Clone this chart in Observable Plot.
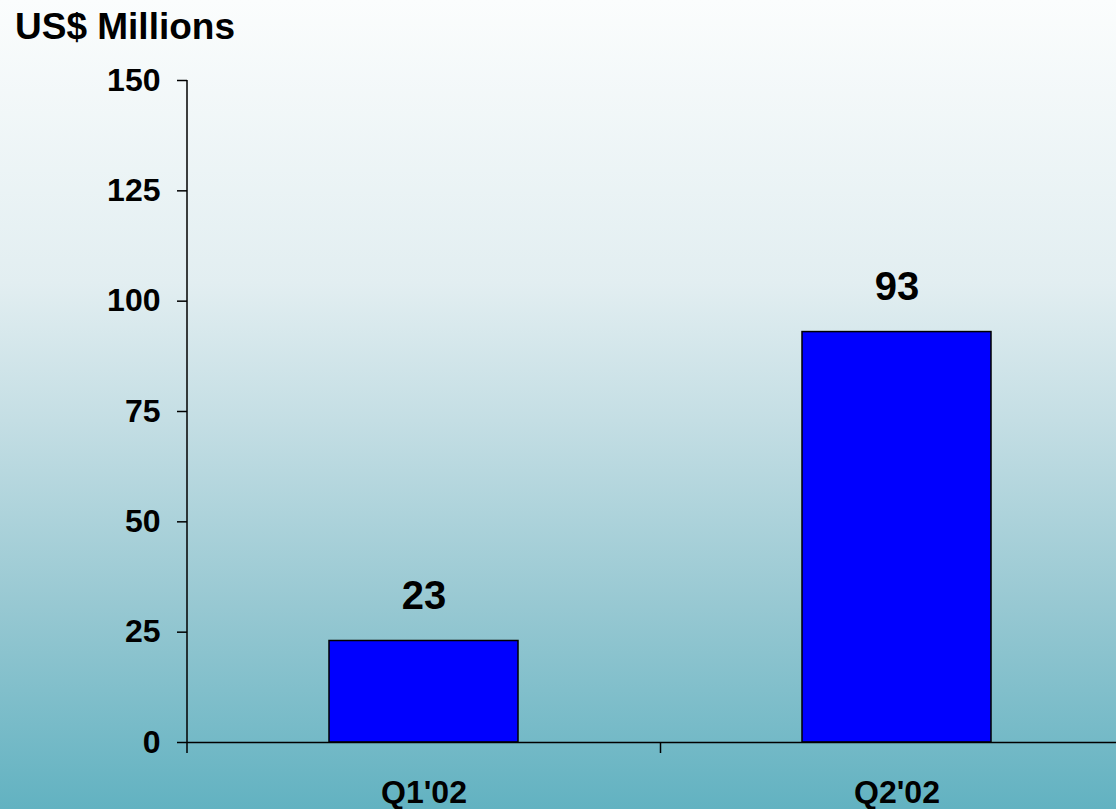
<!DOCTYPE html>
<html>
<head>
<meta charset="utf-8">
<script src="https://cdn.jsdelivr.net/npm/d3@7"></script>
<script src="https://cdn.jsdelivr.net/npm/@observablehq/plot@0.6"></script>
<style>
  html, body { margin: 0; padding: 0; }
  #wrap {
    width: 1116px; height: 809px; overflow: hidden;
    background: linear-gradient(to bottom, #fbfdfd 0%, #e2eef1 35%, #c4dee4 52%, #97c8d2 75%, #62b2c1 100%);
    font-family: Arial, "Liberation Sans", sans-serif;
  }
  #title {
    height: 43px; padding: 9px 0 0 15px; line-height: 35px;
    font-size: 37px; font-weight: bold; color: #000;
  }
</style>
</head>
<body>
<div id="wrap">
  <div id="title">US$ Millions</div>
  <div id="chart"></div>
</div>
<script>
const categories = ["Q1'02", "Q2'02"];
const values = [23, 93];
const yTicks = [0, 25, 50, 75, 100, 125, 150];

const data = categories.map((c, i) => ({quarter: c, value: values[i]}));

const xOptions = {domain: categories, range: [187, 1134], paddingInner: 0.6, paddingOuter: 0.3};
const xs = Plot.scale({x: {type: "band", ...xOptions}});

const axisLines = (index, scales, values, dimensions) => {
  const g = d3.create("svg:g").attr("stroke", "#000").attr("stroke-width", 1.5).attr("fill", "none");
  const x0 = dimensions.marginLeft;
  const y0 = scales.y(0);
  g.append("line").attr("x1", x0).attr("x2", x0).attr("y1", scales.y(d3.max(yTicks))).attr("y2", y0 + 11);
  const bw = xs.bandwidth;
  for (let i = 0; i < categories.length - 1; i++) {
    const b = (xs.apply(categories[i]) + bw + xs.apply(categories[i + 1])) / 2;
    g.append("line").attr("x1", b).attr("x2", b).attr("y1", y0).attr("y2", y0 + 11);
  }
  return g.node();
};

const chart = Plot.plot({
  width: 1116,
  height: 757,
  marginTop: 28,
  marginBottom: 67,
  marginLeft: 187,
  marginRight: 0,
  style: {background: "transparent", overflow: "visible", fontFamily: "Arial, 'Liberation Sans', sans-serif"},
  x: {...xOptions, axis: null},
  y: {domain: [0, 150], axis: null},
  marks: [
    Plot.barY(data, {x: "quarter", y: "value", fill: "#0000ff", stroke: "#000", strokeWidth: 1.5}),
    Plot.ruleY([0], {stroke: "#000", strokeWidth: 1.5}),
    axisLines,
    Plot.axisY({ticks: yTicks, tickSize: 10, tickPadding: 17, fontSize: 32, fontWeight: "bold", stroke: "#000", strokeWidth: 1.5, color: "#000", label: null}),
    Plot.axisX({tickSize: 0, tickPadding: 38, fontSize: 32, fontWeight: "bold", color: "#000", label: null}),
    Plot.text(data, {x: "quarter", y: "value", text: d => String(d.value), dy: -45, fontSize: 40, fontWeight: "bold", fill: "#000"})
  ]
});
document.getElementById("chart").appendChild(chart);
</script>
</body>
</html>
